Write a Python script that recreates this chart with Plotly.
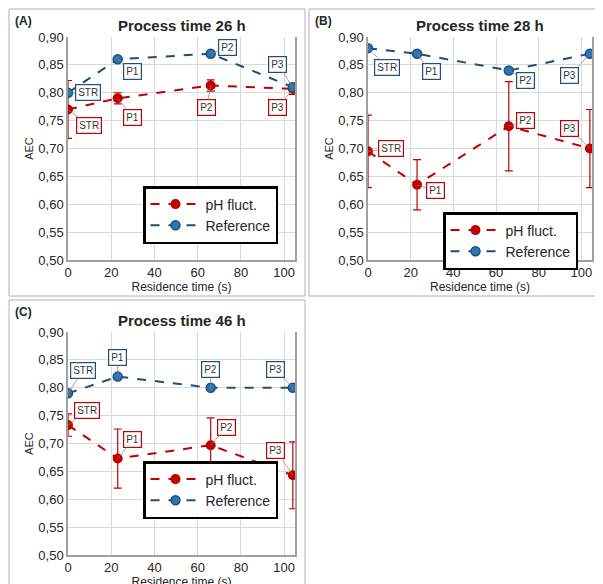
import plotly.graph_objects as go

x_res = [0, 23, 66, 104]
pts = ['STR', 'P1', 'P2', 'P3']
titles = ['Process time 26 h', 'Process time 28 h', 'Process time 46 h']
letters = ['(A)', '(B)', '(C)']

ph_A = [0.770, 0.790, 0.813, 0.807]
ph_A_err = [0.052, 0.010, 0.010, 0.010]
ref_A = [0.80, 0.86, 0.87, 0.81]

ph_B = [0.695, 0.635, 0.740, 0.700]
ph_B_err = [0.065, 0.045, 0.080, 0.070]
ref_B = [0.88, 0.87, 0.84, 0.87]

ph_C = [0.733, 0.673, 0.697, 0.643]
ph_C_err = [0.020, 0.053, 0.049, 0.060]
ref_C = [0.79, 0.82, 0.80, 0.80]

RED = '#c00000'
BLUE = '#1f4e79'
FONT = 'Liberation Sans'

# label offsets in pixels (ax, ay)
off_ph = [[(21, 16), (15, 19), (-4, 22), (-15, 19)],
          [(23, -3), (18, 6), (17, -6), (-20, -20)],
          [(19, -15), (15, -19), (16, -18), (-17, -25)]]
off_ref = [[(20, 0), (15, 12), (17, -6), (-15, -23)],
           [(19, 19), (14, 18), (17, 10), (-20, 22)],
           [(15, -23), (0, -19), (0, -18), (-17, -18)]]

W, H = 603, 584
dom = [((60, 287), (29, 252)), ((360, 584), (29, 252)), ((60, 287), (324, 547))]
frames = [(1, 1, 297, 288), (301, 1, 602, 288), (1, 292, 297, 583)]
legpos = [(135, 178), (435, 204), (135, 453)]

fig = go.Figure()
data = [(ph_A, ph_A_err, ref_A), (ph_B, ph_B_err, ref_B), (ph_C, ph_C_err, ref_C)]
lay = {}
for i, (ph, err, ref) in enumerate(data):
    n = '' if i == 0 else str(i + 1)
    xa, ya = 'x' + n, 'y' + n
    leg = 'legend' + n
    fig.add_trace(go.Scatter(x=x_res, y=ph, name='pH fluct.', xaxis=xa, yaxis=ya, legend=leg,
                             mode='lines+markers', line=dict(color=RED, dash='dash', width=2),
                             marker=dict(color=RED, size=10),
                             error_y=dict(type='data', array=err, color=RED, thickness=1.2, width=4)))
    fig.add_trace(go.Scatter(x=x_res, y=ref, name='Reference', xaxis=xa, yaxis=ya, legend=leg,
                             mode='lines+markers', line=dict(color=BLUE, dash='dash', width=2),
                             marker=dict(color='#2e75b6', size=9, line=dict(color=BLUE, width=1.5))))
    (x0, x1), (y0, y1) = dom[i]
    lay['xaxis' + n] = dict(domain=[x0 / W, x1 / W], anchor=ya, range=[0, 105], dtick=20,
                            showgrid=True, gridcolor='#d9d9d9', showline=True, linecolor='#a0a0a0',
                            linewidth=1.5, zeroline=False, ticks='', automargin=False,
                            tickfont=dict(size=13),
                            title=dict(text='Residence time (s)', font=dict(size=12), standoff=0))
    lay['yaxis' + n] = dict(domain=[1 - y1 / H, 1 - y0 / H], anchor=xa, range=[0.5, 0.9], dtick=0.05,
                            tickformat='.2f', showgrid=True, gridcolor='#d9d9d9', showline=True,
                            linecolor='#a0a0a0', linewidth=1.5, zeroline=False, mirror=True,
                            automargin=False, tickfont=dict(size=13),
                            title=dict(text='AEC', font=dict(size=11), standoff=2))
    lx, ly = legpos[i]
    lay[leg] = dict(x=lx / W, y=1 - ly / H, xanchor='left', yanchor='top', bgcolor='white',
                    bordercolor='black', borderwidth=2.5, font=dict(size=14), itemwidth=50,
                    tracegroupgap=10, entrywidth=110)
    fx0, fy0, fx1, fy1 = frames[i]
    fig.add_shape(type='rect', xref='paper', yref='paper', x0=fx0 / W, x1=fx1 / W,
                  y0=1 - fy1 / H, y1=1 - fy0 / H, line=dict(color='#b0b0b0', width=1))
    fig.add_annotation(text='<b>' + letters[i] + '</b>', xref='paper', yref='paper',
                       x=(fx0 + 4) / W, y=1 - (fy0 + 3) / H, xanchor='left', yanchor='top',
                       showarrow=False, font=dict(size=12))
    fig.add_annotation(text='<b>' + titles[i] + '</b>', xref='paper', yref='paper',
                       x=(x0 + x1) / 2 / W, y=1 - (y0 - 1) / H, xanchor='center', yanchor='bottom',
                       showarrow=False, font=dict(size=15))
    for j in range(4):
        for vals, offs, col in ((ph, off_ph, RED), (ref, off_ref, BLUE)):
            ax, ay = offs[i][j]
            fig.add_annotation(x=x_res[j], y=vals[j], xref=xa, yref=ya, text=pts[j],
                               ax=ax, ay=ay, showarrow=True, arrowhead=0, arrowwidth=0.7,
                               arrowcolor='#808080', bordercolor=col, borderwidth=1.2,
                               bgcolor='white', borderpad=2, font=dict(size=10, color='#333'))

fig.update_layout(width=W, height=H, margin=dict(l=0, r=0, t=0, b=0, autoexpand=False),
                  showlegend=True, plot_bgcolor='white', paper_bgcolor='white', separators=',.',
                  font=dict(family=FONT, size=12, color='#262626'), **lay)
fig.write_html('out.html')
